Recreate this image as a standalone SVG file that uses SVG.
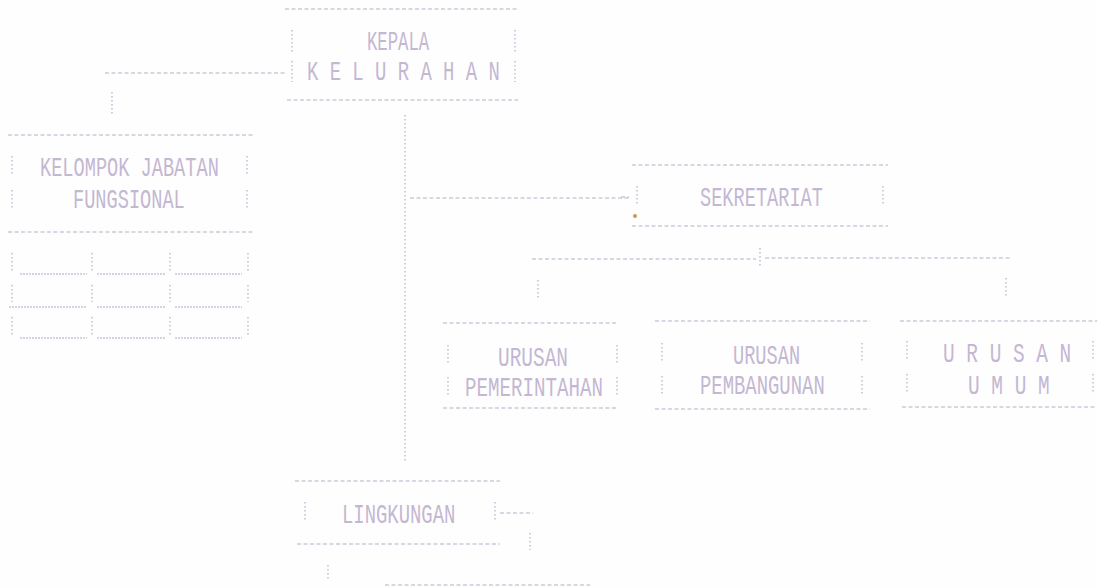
<svg xmlns="http://www.w3.org/2000/svg" width="1097" height="588" viewBox="0 0 1097 588">
<style>
.h{stroke:#a08fb6;stroke-width:1.2;stroke-dasharray:4 2.5;fill:none;opacity:.7}
.v{stroke:#a08fb6;stroke-width:1.2;stroke-dasharray:1.5 2.5;fill:none;opacity:.75}
.g{stroke:#9f88b8;stroke-width:1.1;stroke-dasharray:2 1;fill:none;opacity:.75}
.t{font-family:"Liberation Mono","DejaVu Sans Mono",monospace;fill:#c4b7d2;font-size:27px}
</style>
<rect width="1097" height="588" fill="#fefefe"/>

<g id="connectors">
  <line class="h" x1="105" y1="73" x2="285" y2="73"/>
  <line class="v" x1="112" y1="92" x2="112" y2="116"/>
  <line class="v" x1="405" y1="115" x2="405" y2="462"/>
  <line class="h" x1="410" y1="198" x2="630" y2="198"/>
  <line class="h" x1="621" y1="197" x2="629" y2="197"/>
  <line class="v" x1="760" y1="248" x2="760" y2="268"/>
  <line class="h" x1="532" y1="259" x2="756" y2="259"/>
  <line class="h" x1="765" y1="258" x2="1010" y2="258"/>
  <line class="v" x1="538" y1="280" x2="538" y2="300"/>
  <line class="v" x1="1006" y1="278" x2="1006" y2="296"/>
  <line class="h" x1="500" y1="513" x2="533" y2="513"/>
  <line class="v" x1="530" y1="533" x2="530" y2="550"/>
  <line class="v" x1="328" y1="565" x2="328" y2="580"/>
  <line class="h" x1="385" y1="585" x2="590" y2="585"/>
</g>

<g id="kepala-kelurahan">
  <line class="h" x1="285" y1="9" x2="518" y2="9"/>
  <line class="h" x1="287" y1="100" x2="518" y2="100"/>
  <line class="v" x1="292" y1="30" x2="292" y2="52"/>
  <line class="v" x1="292" y1="61" x2="292" y2="82"/>
  <line class="v" x1="515" y1="30" x2="515" y2="52"/>
  <line class="v" x1="515" y1="61" x2="515" y2="82"/>
  <text class="t" transform="translate(367,50) scale(0.64,1)">KEPALA</text>
  <text class="t" transform="translate(307,80) scale(0.70,1)">K E L U R A H A N</text>
</g>

<g id="kelompok-jabatan-fungsional">
  <line class="h" x1="8" y1="135" x2="253" y2="135"/>
  <line class="h" x1="8" y1="232" x2="253" y2="232"/>
  <line class="v" x1="12" y1="156" x2="12" y2="176"/>
  <line class="v" x1="12" y1="190" x2="12" y2="210"/>
  <line class="v" x1="247" y1="156" x2="247" y2="176"/>
  <line class="v" x1="247" y1="190" x2="247" y2="210"/>
  <text class="t" transform="translate(40,176) scale(0.69,1)">KELOMPOK JABATAN</text>
  <text class="t" transform="translate(73,208) scale(0.69,1)">FUNGSIONAL</text>
</g>

<g id="grid-fungsional">
  <line class="v" x1="12" y1="253" x2="12" y2="272"/>
  <line class="v" x1="92" y1="253" x2="92" y2="272"/>
  <line class="v" x1="170" y1="253" x2="170" y2="272"/>
  <line class="v" x1="248" y1="253" x2="248" y2="272"/>
  <line class="v" x1="12" y1="285" x2="12" y2="302"/>
  <line class="v" x1="92" y1="285" x2="92" y2="302"/>
  <line class="v" x1="170" y1="285" x2="170" y2="302"/>
  <line class="v" x1="248" y1="285" x2="248" y2="302"/>
  <line class="v" x1="12" y1="317" x2="12" y2="335"/>
  <line class="v" x1="92" y1="317" x2="92" y2="335"/>
  <line class="v" x1="170" y1="317" x2="170" y2="335"/>
  <line class="v" x1="248" y1="317" x2="248" y2="335"/>
  <line class="g" x1="20" y1="274" x2="87" y2="274"/>
  <line class="g" x1="97" y1="274" x2="165" y2="274"/>
  <line class="g" x1="175" y1="274" x2="242" y2="274"/>
  <line class="g" x1="9" y1="307" x2="87" y2="307"/>
  <line class="g" x1="97" y1="307" x2="165" y2="307"/>
  <line class="g" x1="175" y1="307" x2="242" y2="307"/>
  <line class="g" x1="20" y1="338" x2="87" y2="338"/>
  <line class="g" x1="97" y1="338" x2="165" y2="338"/>
  <line class="g" x1="175" y1="338" x2="242" y2="338"/>
</g>

<g id="sekretariat">
  <line class="h" x1="632" y1="165" x2="888" y2="165"/>
  <line class="h" x1="632" y1="226" x2="888" y2="226"/>
  <line class="v" x1="637" y1="186" x2="637" y2="206"/>
  <line class="v" x1="883" y1="186" x2="883" y2="206"/>
  <text class="t" transform="translate(700,206) scale(0.69,1)">SEKRETARIAT</text>
  <circle cx="635" cy="216" r="2" fill="#c07a30" opacity=".8"/>
</g>

<g id="urusan-pemerintahan">
  <line class="h" x1="443" y1="323" x2="618" y2="323"/>
  <line class="h" x1="443" y1="408" x2="618" y2="408"/>
  <line class="v" x1="448" y1="345" x2="448" y2="365"/>
  <line class="v" x1="448" y1="377" x2="448" y2="397"/>
  <line class="v" x1="617" y1="345" x2="617" y2="365"/>
  <line class="v" x1="617" y1="377" x2="617" y2="397"/>
  <text class="t" transform="translate(498,366) scale(0.72,1)">URUSAN</text>
  <text class="t" transform="translate(465,396) scale(0.71,1)">PEMERINTAHAN</text>
</g>

<g id="urusan-pembangunan">
  <line class="h" x1="655" y1="321" x2="870" y2="321"/>
  <line class="h" x1="655" y1="409" x2="870" y2="409"/>
  <line class="v" x1="662" y1="343" x2="662" y2="363"/>
  <line class="v" x1="662" y1="376" x2="662" y2="394"/>
  <line class="v" x1="862" y1="343" x2="862" y2="363"/>
  <line class="v" x1="862" y1="376" x2="862" y2="394"/>
  <text class="t" transform="translate(733,364) scale(0.69,1)">URUSAN</text>
  <text class="t" transform="translate(700,394) scale(0.70,1)">PEMBANGUNAN</text>
</g>

<g id="urusan-umum">
  <line class="h" x1="900" y1="321" x2="1097" y2="321"/>
  <line class="h" x1="902" y1="407" x2="1097" y2="407"/>
  <line class="v" x1="907" y1="341" x2="907" y2="361"/>
  <line class="v" x1="907" y1="374" x2="907" y2="393"/>
  <line class="v" x1="1093" y1="341" x2="1093" y2="361"/>
  <line class="v" x1="1093" y1="374" x2="1093" y2="393"/>
  <text class="t" transform="translate(943,362) scale(0.72,1)">U R U S A N</text>
  <text class="t" transform="translate(968,394) scale(0.72,1)">U M U M</text>
</g>

<g id="lingkungan">
  <line class="h" x1="295" y1="481" x2="500" y2="481"/>
  <line class="h" x1="297" y1="544" x2="500" y2="544"/>
  <line class="v" x1="305" y1="502" x2="305" y2="522"/>
  <line class="v" x1="495" y1="502" x2="495" y2="522"/>
  <text class="t" transform="translate(342,523) scale(0.70,1)">LINGKUNGAN</text>
</g>
</svg>
